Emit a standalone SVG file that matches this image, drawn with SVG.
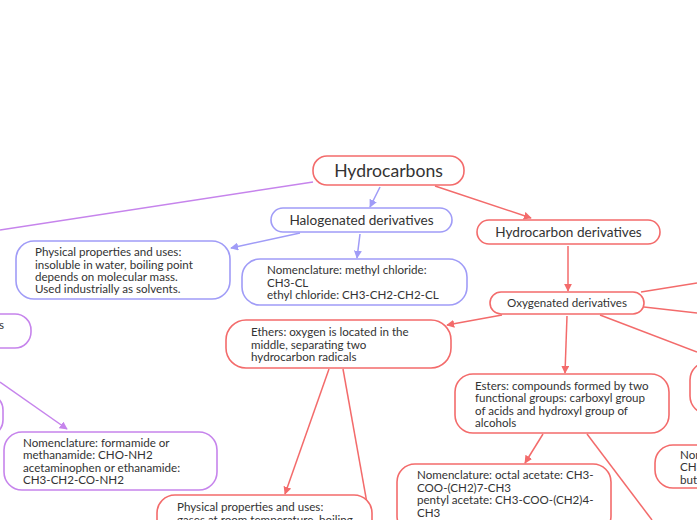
<svg xmlns="http://www.w3.org/2000/svg" width="697" height="520" viewBox="0 0 697 520">
<defs>
<style>
.red{fill:#fff;stroke:#f36b6b;stroke-width:1.6}
.blu{fill:#fff;stroke:#a09cf7;stroke-width:1.6}
.pur{fill:#fff;stroke:#c684ec;stroke-width:1.6}
.lr{stroke:#f36b6b;stroke-width:1.5;fill:none}
.lb{stroke:#a09cf7;stroke-width:1.5;fill:none}
.lp{stroke:#c684ec;stroke-width:1.5;fill:none}
text{font-family:Lato,"Open Sans",sans-serif;fill:#333}
.t{font-size:11.6px}
.m{font-size:13.6px;text-anchor:middle}
</style>
<marker id="ar" viewBox="0 0 10 10" refX="9" refY="5" markerWidth="8" markerHeight="8" markerUnits="userSpaceOnUse" orient="auto"><path d="M0,0L10,5L0,10z" fill="#f36b6b"/></marker>
<marker id="ab" viewBox="0 0 10 10" refX="9" refY="5" markerWidth="8" markerHeight="8" markerUnits="userSpaceOnUse" orient="auto"><path d="M0,0L10,5L0,10z" fill="#a09cf7"/></marker>
<marker id="ap" viewBox="0 0 10 10" refX="9" refY="5" markerWidth="8" markerHeight="8" markerUnits="userSpaceOnUse" orient="auto"><path d="M0,0L10,5L0,10z" fill="#c684ec"/></marker>
</defs>
<rect width="697" height="520" fill="#fff"/>
<g id="connectors">
<line class="lp" x1="313" y1="182" x2="0" y2="230"/>
<line class="lb" x1="380" y1="187" x2="370" y2="207" marker-end="url(#ab)"/>
<line class="lr" x1="435" y1="186" x2="531" y2="218" marker-end="url(#ar)"/>
<line class="lb" x1="300" y1="233" x2="231" y2="248" marker-end="url(#ab)"/>
<line class="lb" x1="360" y1="234" x2="357" y2="258" marker-end="url(#ab)"/>
<line class="lr" x1="568" y1="246" x2="568" y2="291" marker-end="url(#ar)"/>
<line class="lr" x1="502" y1="315" x2="447" y2="325" marker-end="url(#ar)"/>
<line class="lr" x1="567" y1="316" x2="565" y2="373" marker-end="url(#ar)"/>
<line class="lr" x1="641" y1="292" x2="697" y2="283"/>
<line class="lr" x1="644" y1="307" x2="697" y2="313"/>
<line class="lr" x1="600" y1="315" x2="697" y2="352"/>
<line class="lr" x1="543" y1="434" x2="525" y2="463" marker-end="url(#ar)"/>
<line class="lr" x1="587" y1="434" x2="652" y2="520"/>
<line class="lr" x1="329" y1="369" x2="285" y2="494" marker-end="url(#ar)"/>
<line class="lr" x1="343" y1="369" x2="370" y2="520"/>
<line class="lp" x1="0" y1="382" x2="67" y2="429" marker-end="url(#ap)"/>
</g>
<g id="hydrocarbons">
<rect class="red" x="313" y="156" width="151" height="29" rx="14"/>
<text x="388.5" y="177" style="font-size:17.6px;text-anchor:middle">Hydrocarbons</text>
</g>
<g id="halogenated">
<rect class="blu" x="271" y="208" width="181" height="24" rx="12"/>
<text class="m" x="361.5" y="225">Halogenated derivatives</text>
</g>
<g id="hydrocarbon-derivatives">
<rect class="red" x="477" y="220" width="183" height="24" rx="12"/>
<text class="m" x="568.5" y="237">Hydrocarbon derivatives</text>
</g>
<g id="halo-physical">
<rect class="blu" x="16" y="241" width="214" height="58" rx="18"/>
<text class="t" x="35" y="256">Physical properties and uses:</text>
<text class="t" x="35" y="269">insoluble in water, boiling point</text>
<text class="t" x="35" y="281">depends on molecular mass.</text>
<text class="t" x="35" y="293">Used industrially as solvents.</text>
</g>
<g id="halo-nomenclature">
<rect class="blu" x="242" y="259" width="225" height="46" rx="18"/>
<text class="t" x="267" y="274">Nomenclature: methyl chloride:</text>
<text class="t" x="267" y="287">CH3-CL</text>
<text class="t" x="267" y="299">ethyl chloride: CH3-CH2-CH2-CL</text>
</g>
<g id="oxygenated">
<rect class="red" x="490" y="292" width="154" height="22" rx="11"/>
<text x="567" y="307" style="font-size:11.6px;text-anchor:middle">Oxygenated derivatives</text>
</g>
<g id="ethers">
<rect class="red" x="226" y="320" width="225" height="48" rx="20"/>
<text class="t" x="251" y="336">Ethers: oxygen is located in the</text>
<text class="t" x="251" y="349">middle, separating two</text>
<text class="t" x="251" y="361">hydrocarbon radicals</text>
</g>
<g id="esters">
<rect class="red" x="455" y="374" width="214" height="59" rx="18"/>
<text class="t" x="475" y="390">Esters: compounds formed by two</text>
<text class="t" x="475" y="402">functional groups: carboxyl group</text>
<text class="t" x="475" y="415">of acids and hydroxyl group of</text>
<text class="t" x="475" y="427">alcohols</text>
</g>
<g id="right-node-1">
<rect class="red" x="690" y="362" width="40" height="52" rx="18"/>
</g>
<g id="right-node-2">
<rect class="red" x="655" y="445" width="70" height="43" rx="18"/>
<text class="t" x="680" y="459">Nom</text>
<text class="t" x="680" y="471">CH3</text>
<text class="t" x="680" y="484">but</text>
</g>
<g id="esters-nomenclature">
<rect class="red" x="397" y="464" width="214" height="70" rx="18"/>
<text class="t" x="417" y="479">Nomenclature: octal acetate: CH3-</text>
<text class="t" x="417" y="492">COO-(CH2)7-CH3</text>
<text class="t" x="417" y="504">pentyl acetate: CH3-COO-(CH2)4-</text>
<text class="t" x="417" y="517">CH3</text>
</g>
<g id="ethers-physical">
<rect class="red" x="157" y="495" width="215" height="60" rx="18"/>
<text class="t" x="177" y="511">Physical properties and uses:</text>
<text class="t" x="177" y="524">gases at room temperature, boiling</text>
</g>
<g id="left-node-1">
<rect class="pur" x="-40" y="314" width="71" height="34" rx="16"/>
<text class="t" x="-1" y="329">s</text>
</g>
<g id="left-node-2">
<rect class="pur" x="-40" y="394" width="43" height="42" rx="16"/>
</g>
<g id="amides-nomenclature">
<rect class="pur" x="4" y="432" width="213" height="58" rx="18"/>
<text class="t" x="23" y="447">Nomenclature: formamide or</text>
<text class="t" x="23" y="459">methanamide: CHO-NH2</text>
<text class="t" x="23" y="472">acetaminophen or ethanamide:</text>
<text class="t" x="23" y="484">CH3-CH2-CO-NH2</text>
</g>
</svg>
